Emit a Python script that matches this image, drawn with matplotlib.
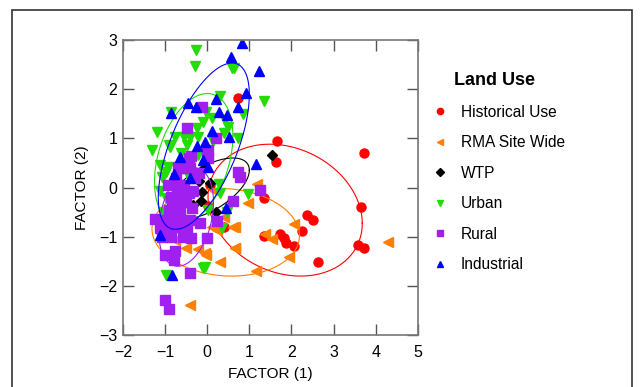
import numpy as np
import matplotlib
matplotlib.use("Agg")
import matplotlib.pyplot as plt
from matplotlib.patches import Rectangle

plt.rcParams['font.family'] = ['Liberation Sans', 'DejaVu Sans']

# ---- data: (FACTOR 1, FACTOR 2) ----
hist_x = [1.66, 1.64, 3.72, 1.34, 3.65, 2.37, 2.51, 2.25, 1.34, 1.73, 1.83, 1.86,
          2.06, 3.58, 3.71, 2.64, 0.60, 0.74, 0.39, 0.03, 0.62, 0.07]
hist_y = [0.95, 0.52, 0.70, -0.21, -0.40, -0.56, -0.66, -0.88, -0.98, -0.95, -1.03, -1.13,
          -1.19, -1.17, -1.22, -1.52, -0.27, 1.81, -0.81, -0.37, -0.27, 0.05]

rma_x = [1.19, 2.07, 0.65, 0.21, 1.38, 1.53, 4.30, 0.65, -0.05, 1.93, 0.31, 1.16,
         0.19, 0.11, 0.23, 0.62, -0.50, -0.22, -0.02, 0.66, -0.40, -0.88, 0.39, 0.98,
         -0.76]
rma_y = [0.08, -0.74, -0.80, -0.85, -0.95, -1.05, -1.11, -1.22, -1.34, -1.41, -1.52, -1.69,
         -0.08, -0.81, -0.86, -0.81, -1.22, -1.25, -1.37, -1.22, -2.39, -0.86, -0.59, -0.32,
         -1.07]

wtp_x = [-0.10, -0.20, 0.07, -0.13, -0.15, -0.34, 0.21, 1.53]
wtp_y = [0.37, 0.14, 0.10, -0.10, -0.27, -0.36, -0.49, 0.66]

urban_x = [-0.27, -0.30, 0.59, 0.64, 1.34, 0.85, -0.85, 0.31, -0.02, 0.11, -0.09, 0.43,
           -0.25, -0.21, -0.56, -0.76, -0.40, -1.19, -1.31, -0.90, -0.48, 0.39, 0.74,
           -1.13, -0.92, -1.05, -0.21, -0.88, -0.97, -1.08, -1.13, -0.97, -1.05, 0.27,
           0.31, 0.47, 0.03, -0.05, -0.97, 0.98, 0.35, -0.09, -0.62, -0.70, -0.55,
           -0.33, -0.45, -0.80, -0.60, 0.15, 0.50]
urban_y = [2.79, 2.46, 2.42, 2.42, 1.76, 1.49, 1.53, 1.85, 1.54, 1.41, 1.34, 1.37,
           1.20, 1.03, 1.03, 1.03, 1.03, 1.13, 0.76, 0.86, 0.86, 1.10, 1.00,
           0.46, 0.42, 0.22, 0.66, 0.83, 0.32, 0.22, -0.08, -0.22, -0.49, 0.08,
           -0.12, -0.49, -0.46, -1.61, -1.78, -0.14, -0.83, -1.63, 0.70, 0.05, -0.10,
           0.62, 0.25, -0.30, 0.45, 0.95, 1.22]

rural_x = [-0.13, -0.48, 0.21, 0.03, -0.38, -0.70, -0.47, 0.03, 0.73, 0.77,
           -0.68, -0.40, -0.75, -0.71, -0.59, -0.77, -1.23, -1.00, -0.84, -0.59, -0.40,
           -0.17, -1.13, -0.96, -0.74, -0.47, -1.07, -0.86, -0.58, -0.38, -0.01, -0.76,
           -1.00, -0.78, -0.40, -1.01, -0.90, 0.23, 1.26, 0.61, -0.44, -0.42, -0.01,
           -0.64, -0.56, -0.33, -0.80, -0.36, -0.55, -0.85, -0.65, -0.30, -0.92, -0.50,
           -0.20, -0.70, -0.90]
rural_y = [1.64, 1.20, 1.00, 0.76, 0.63, 0.41, 0.40, 0.59, 0.32, 0.22,
           0.39, 0.39, 0.19, 0.02, -0.25, -0.39, -0.64, -0.66, -0.66, -0.66, -0.66,
           -0.72, -0.83, -0.83, -0.81, -0.81, -1.00, -1.00, -1.00, -1.03, -1.03, -1.30,
           -1.37, -1.47, -1.73, -2.29, -2.47, -0.69, -0.05, -0.27, -0.12, 0.59, 0.73,
           -0.02, -0.25, -0.08, -0.39, -0.42, 0.05, -0.20, -0.50, 0.20, 0.05, -0.30,
           0.30, -0.10, -0.45]

ind_x = [0.82, 0.57, 1.23, 0.92, 0.21, -0.46, -0.27, -0.87, 0.73, 0.28, 0.46, 0.11,
         -0.05, 0.51, -0.25, -0.64, -0.79, 1.16, 0.03, 0.44, -1.12, -0.84, -0.40, -0.10]
ind_y = [2.94, 2.66, 2.37, 1.93, 1.79, 1.72, 1.64, 1.51, 1.64, 1.54, 1.47, 1.15,
         0.92, 1.02, 0.84, 0.61, 0.27, 0.47, 0.42, -0.42, -0.97, -1.78, 0.20, 0.55]

# ellipses: centre, half-range in x and y, correlation
ell_hist = (1.85, -0.46, 1.83, 1.34, -0.20)
ell_rma = (0.44, -0.91, 1.75, 0.89, -0.08)
ell_wtp = (0.03, -0.02, 0.97, 0.62, 0.60)
ell_urban = (-0.32, 0.58, 0.93, 1.33, 0.35)
ell_rural = (-0.50, -0.60, 0.65, 1.00, 0.30)
ell_ind = (-0.08, 0.84, 1.08, 1.69, 0.62)

groups = [
    ("Historical Use", hist_x, hist_y, "o", "#ff0000", ell_hist),
    ("RMA Site Wide", rma_x, rma_y, "<", "#ff7f00", ell_rma),
    ("WTP", wtp_x, wtp_y, "D", "#000000", ell_wtp),
    ("Urban", urban_x, urban_y, "v", "#22dd00", ell_urban),
    ("Rural", rural_x, rural_y, "s", "#a020f0", ell_rural),
    ("Industrial", ind_x, ind_y, "^", "#0000ff", ell_ind),
]

fig = plt.figure(figsize=(6.4, 3.87), dpi=100)
ax = fig.add_axes([0.192, 0.134, 0.461, 0.763])

t = np.linspace(0, 2 * np.pi, 300)
handles = []
for name, xs, ys, mk, col, (cx, cy, sx, sy, r) in groups:
    ms = 6.5 if mk != "D" else 5.5
    ax.plot(xs, ys, linestyle="none", marker=mk, color=col, markersize=ms)
    d = np.arccos(r)
    ax.plot(cx + sx * np.cos(t), cy + sy * np.cos(t - d), color=col, lw=0.8)
    h, = plt.plot([], [], linestyle="none", marker=mk, color=col, markersize=4.5)
    handles.append((h, name))

ax.set_xlim(-2, 5)
ax.set_ylim(-3, 3)
ax.set_xticks(range(-2, 6))
ax.set_yticks(range(-3, 4))
ax.set_xticklabels([str(v).replace("-", "\u2212") for v in range(-2, 6)])
ax.set_yticklabels([str(v).replace("-", "\u2212") for v in range(-3, 4)])
ax.tick_params(direction="in", length=8, width=1, color="#555555",
               top=True, right=True, labelsize=11.5)
ax.tick_params(axis="x", pad=7)
ax.tick_params(axis="y", pad=4)
for s in ax.spines.values():
    s.set_color("#777777")
    s.set_linewidth(1.2)
ax.set_xlabel("FACTOR (1)", fontsize=11, labelpad=5)
ax.set_ylabel("FACTOR (2)", fontsize=11, labelpad=7)

leg = fig.legend([h for h, _ in handles], [n for _, n in handles],
                 loc="upper left", bbox_to_anchor=(0.641, 0.85),
                 frameon=False, fontsize=11.2, labelspacing=1.0,
                 handletextpad=0.35, title="Land Use",
                 title_fontproperties={"weight": "bold", "size": 13})

# thin frame round the figure
fig.patches.append(Rectangle((0.019, -0.1), 0.968, 1.074, transform=fig.transFigure,
                             fill=False, edgecolor="#333333", lw=1.2))

fig.savefig("out.png", dpi=100)
